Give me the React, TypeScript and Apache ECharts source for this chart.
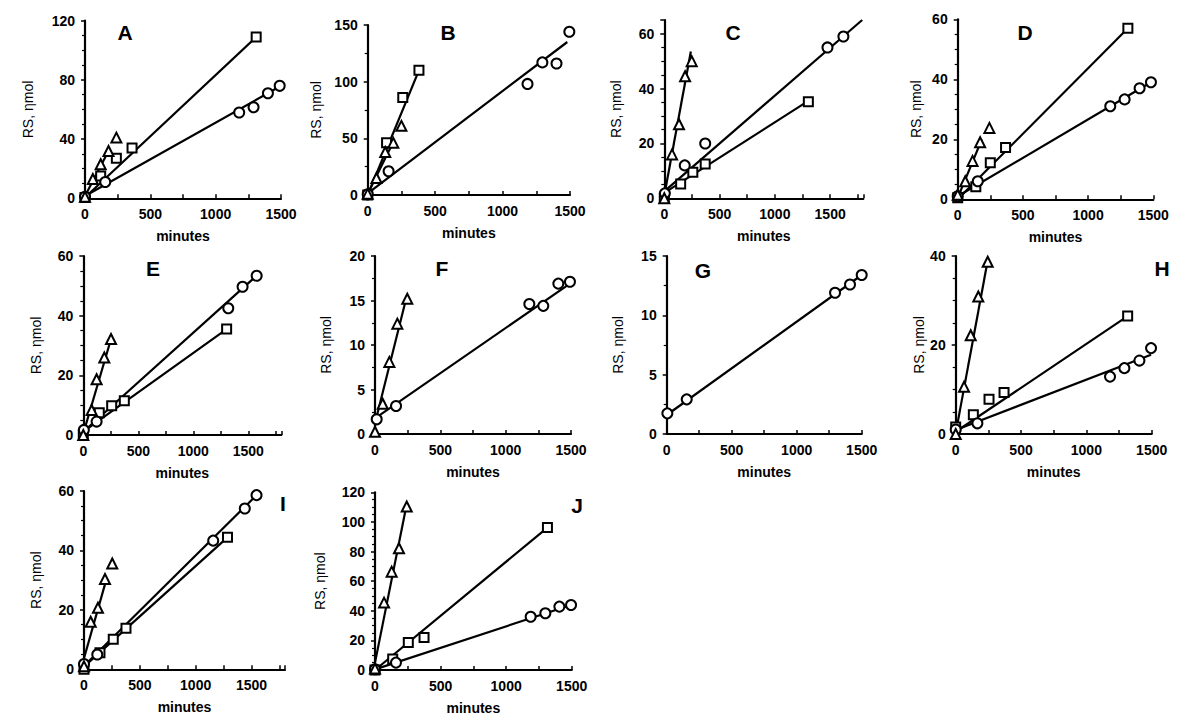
import React, { useEffect, useRef } from "react";
import * as echarts from "echarts";

// ---- Data (minutes, RS nmol) ----
// Panel A
const A_tri = [[0, 1], [60, 13], [120, 23], [180, 32], [240, 41]];
const A_triFit = [[0, 1.5], [180, 32]];
const A_sq = [[0, 0.5], [120, 15], [240, 27], [360, 34], [1310, 109]];
const A_sqFit = [[0, 0.5], [1310, 109]];
const A_circ = [[0, 1], [155, 11], [1180, 58], [1290, 61.5], [1400, 71], [1490, 76]];
const A_circFit = [[0, 1.5], [1490, 75.5]];
// Panel B
const B_tri = [[0, 1], [65, 15], [130, 38], [190, 46], [250, 61]];
const B_triFit = [[0, 1], [195, 48]];
const B_sq = [[0, 0], [140, 46], [260, 86], [380, 110]];
const B_sqFit = [[0, 0], [380, 110]];
const B_circ = [[0, 0.6], [155, 21], [1185, 98], [1295, 117], [1400, 116], [1495, 144]];
const B_circFit = [[0, 1.5], [1480, 135]];
// Panel C
const C_tri = [[0, 0], [70, 16], [133, 27], [188, 44.5], [248, 50]];
const C_triFit = [[0, 1], [240, 53.5]];
const C_sq = [[0, 0], [148, 5.2], [258, 9.5], [370, 12.5], [1303, 35.2]];
const C_sqFit = [[0, 2], [1303, 35.5]];
const C_circ = [[5, 1.8], [185, 12], [370, 20], [1476, 55], [1620, 59]];
const C_circFit = [[0, 2.5], [1790, 65]];
// Panel D
const D_tri = [[0, 1.5], [58, 6], [114, 12.8], [172, 19], [243, 23.8]];
const D_triFit = [[0, 0.5], [185, 20]];
const D_sq = [[0, 0.5], [139, 4.2], [250, 12.2], [367, 17.3], [1305, 57]];
const D_sqFit = [[0, 0], [1305, 57]];
const D_circ = [[0, 1], [154, 6], [1170, 31], [1280, 33.3], [1395, 37], [1482, 39]];
const D_circFit = [[0, 1], [1482, 39]];
// Panel E
const E_tri = [[0, 0], [76, 8.4], [121, 18.7], [191, 26], [252, 32.2]];
const E_triFit = [[0, 0.5], [252, 32.2]];
const E_sq = [[0, 0], [145, 7.5], [258, 9.8], [373, 11.5], [1303, 35.5]];
const E_sqFit = [[0, 1.1], [1303, 35.5]];
const E_circ = [[5, 1.7], [121, 4.5], [1318, 42.5], [1448, 49.7], [1576, 53.4]];
const E_circFit = [[0, 1.1], [1576, 53.4]];
// Panel F
const F_tri = [[0, 0.26], [59, 3.4], [110, 8.1], [171, 12.4], [247, 15.2]];
const F_triFit = [[0, 1.2], [245, 15.6]];
const F_circ = [[13, 1.65], [161, 3.15], [1181, 14.6], [1288, 14.4], [1403, 16.9], [1492, 17.1]];
const F_circFit = [[0, 1.76], [1492, 16.9]];
// Panel G
const G_circ = [[5, 1.74], [154, 2.92], [1295, 11.9], [1410, 12.6], [1500, 13.4]];
const G_circFit = [[0, 1.6], [1500, 13.4]];
// Panel H
const H_tri = [[0, 0], [64, 10.6], [115, 22.2], [173, 30.9], [245, 38.7]];
const H_triFit = [[0, 0.2], [245, 39]];
const H_sq = [[0, 1.6], [135, 4.3], [255, 7.8], [370, 9.3], [1316, 26.5]];
const H_sqFit = [[0, 0.5], [1316, 26.5]];
const H_circ = [[0, 1], [166, 2.4], [1181, 12.9], [1291, 14.8], [1406, 16.5], [1495, 19.3]];
const H_circFit = [[0, 0.9], [1495, 17.8]];
// Panel I
const I_tri = [[0, 1], [60, 16], [125, 20.7], [188, 30.4], [253, 35.6]];
const I_triFit = [[0, 3.7], [203, 30.6]];
const I_sq = [[0, 0], [143, 5.6], [262, 10.1], [376, 13.8], [1285, 44.4]];
const I_sqFit = [[0, 0.9], [1285, 44.4]];
const I_circ = [[0, 1.8], [119, 5], [1157, 43.3], [1440, 54.1], [1545, 58.6]];
const I_circFit = [[0, 1.1], [1545, 58.6]];
// Panel J
const J_tri = [[0, 1], [69, 45.5], [127, 66.4], [183, 82.2], [242, 110.4]];
const J_triFit = [[0, 5], [242, 112]];
const J_sq = [[0, 0], [135, 7.4], [254, 18.5], [374, 22], [1315, 96.2]];
const J_sqFit = [[0, 0], [1315, 96.2]];
const J_circ = [[0, 0.5], [160, 5], [1187, 36], [1299, 38.3], [1406, 42.8], [1495, 43.9]];
const J_circFit = [[0, 0.4], [1495, 43.9]];

const panelLetters = ["A", "B", "C", "D", "E", "F", "G", "H", "I", "J"];
const yTitle = "RS, ηmol";
const xTitle = "minutes";

type Panel = {
  letter: string;
  grid: { left: number; top: number; width: number; height: number };
  xMax: number;
  yMax: number;
  yInt: number;
  yMinor: number;
  nameGap: number;
  lx: number;
  ly: number;
  tri?: number[][];
  triFit?: number[][];
  sq?: number[][];
  sqFit?: number[][];
  circ?: number[][];
  circFit?: number[][];
};

const panels: Panel[] = [
  { letter: panelLetters[0], grid: { left: 85, top: 20.7, width: 196, height: 177.6 }, xMax: 1500, yMax: 120, yInt: 40, yMinor: 4, nameGap: 50, lx: 125, ly: 32, tri: A_tri, triFit: A_triFit, sq: A_sq, sqFit: A_sqFit, circ: A_circ, circFit: A_circFit },
  { letter: panelLetters[1], grid: { left: 367.7, top: 25, width: 202.3, height: 170 }, xMax: 1500, yMax: 150, yInt: 50, yMinor: 2, nameGap: 45, lx: 448, ly: 32, tri: B_tri, triFit: B_triFit, sq: B_sq, sqFit: B_sqFit, circ: B_circ, circFit: B_circFit },
  { letter: panelLetters[2], grid: { left: 664.3, top: 20, width: 199, height: 178.3 }, xMax: 1800, yMax: 65, yInt: 20, yMinor: 4, nameGap: 41, lx: 733, ly: 32, tri: C_tri, triFit: C_triFit, sq: C_sq, sqFit: C_sqFit, circ: C_circ, circFit: C_circFit },
  { letter: panelLetters[3], grid: { left: 957.7, top: 19.3, width: 195.6, height: 180 }, xMax: 1500, yMax: 60, yInt: 20, yMinor: 4, nameGap: 35, lx: 1025, ly: 32, tri: D_tri, triFit: D_triFit, sq: D_sq, sqFit: D_sqFit, circ: D_circ, circFit: D_circFit },
  { letter: panelLetters[4], grid: { left: 83.3, top: 256, width: 198, height: 179 }, xMax: 1800, yMax: 60, yInt: 20, yMinor: 4, nameGap: 40, lx: 153, ly: 268, tri: E_tri, triFit: E_triFit, sq: E_sq, sqFit: E_sqFit, circ: E_circ, circFit: E_circFit },
  { letter: panelLetters[5], grid: { left: 375, top: 256, width: 196, height: 178 }, xMax: 1500, yMax: 20, yInt: 5, yMinor: 2, nameGap: 42, lx: 442, ly: 268, tri: F_tri, triFit: F_triFit, circ: F_circ, circFit: F_circFit },
  { letter: panelLetters[6], grid: { left: 666.7, top: 256, width: 195, height: 178 }, xMax: 1500, yMax: 15, yInt: 5, yMinor: 2, nameGap: 42, lx: 703, ly: 270, circ: G_circ, circFit: G_circFit },
  { letter: panelLetters[7], grid: { left: 955.7, top: 256, width: 196, height: 178 }, xMax: 1500, yMax: 40, yInt: 20, yMinor: 4, nameGap: 29, lx: 1162, ly: 268, tri: H_tri, triFit: H_triFit, sq: H_sq, sqFit: H_sqFit, circ: H_circ, circFit: H_circFit },
  { letter: panelLetters[8], grid: { left: 84, top: 491, width: 201, height: 178.3 }, xMax: 1800, yMax: 60, yInt: 20, yMinor: 4, nameGap: 41, lx: 283, ly: 503, tri: I_tri, triFit: I_triFit, sq: I_sq, sqFit: I_sqFit, circ: I_circ, circFit: I_circFit },
  { letter: panelLetters[9], grid: { left: 375, top: 492.3, width: 196.7, height: 177.7 }, xMax: 1500, yMax: 120, yInt: 20, yMinor: 4, nameGap: 48, lx: 577, ly: 505, tri: J_tri, triFit: J_triFit, sq: J_sq, sqFit: J_sqFit, circ: J_circ, circFit: J_circFit },
];

const FONT = "Arial, 'Liberation Sans', sans-serif";

function buildOption() {
  const grid: any[] = [];
  const xAxis: any[] = [];
  const yAxis: any[] = [];
  const series: any[] = [];
  const graphic: any[] = [];

  panels.forEach((p, i) => {
    grid.push({ ...p.grid, containLabel: false });
    xAxis.push({
      type: "value",
      gridIndex: i,
      min: 0,
      max: p.xMax,
      interval: 250,
      name: xTitle,
      nameLocation: "middle",
      nameGap: 31,
      nameTextStyle: { fontFamily: FONT, fontSize: 14, fontWeight: "bold", color: "#000" },
      axisLine: { show: true, onZero: false, lineStyle: { color: "#000", width: 2.2 } },
      axisTick: { show: true, inside: true, length: 4, lineStyle: { color: "#000", width: 1.5 } },
      axisLabel: {
        margin: 9,
        fontFamily: FONT,
        fontSize: 14,
        fontWeight: "bold",
        color: "#000",
        formatter: (v: number) => (v % 500 === 0 ? String(v) : ""),
      },
      splitLine: { show: false },
    });
    yAxis.push({
      type: "value",
      gridIndex: i,
      min: 0,
      max: p.yMax,
      interval: p.yInt,
      name: yTitle,
      nameLocation: "middle",
      nameGap: p.nameGap,
      nameTextStyle: { fontFamily: FONT, fontSize: 14, color: "#000" },
      axisLine: { show: true, onZero: false, lineStyle: { color: "#000", width: 2.2 } },
      axisTick: { show: true, inside: false, length: 4, lineStyle: { color: "#000", width: 1.5 } },
      minorTick: { show: true, splitNumber: p.yMinor, length: 3, lineStyle: { color: "#000", width: 1.2 } },
      axisLabel: {
        margin: 10,
        fontFamily: FONT,
        fontSize: 14,
        fontWeight: "bold",
        color: "#000",
        formatter: (v: number) => (v % p.yInt === 0 ? String(v) : ""),
      },
      splitLine: { show: false },
    });

    const fits = [p.triFit, p.sqFit, p.circFit];
    fits.forEach((f) => {
      if (!f) return;
      series.push({
        type: "line",
        xAxisIndex: i,
        yAxisIndex: i,
        data: f,
        symbol: "none",
        lineStyle: { color: "#000", width: 2.2 },
        z: 2,
        silent: true,
      });
    });
    const marks: [number[][] | undefined, string, number][] = [
      [p.sq, "rect", 9],
      [p.circ, "circle", 10],
      [p.tri, "triangle", 10],
    ];
    marks.forEach(([d, sym, size]) => {
      if (!d) return;
      series.push({
        type: "scatter",
        xAxisIndex: i,
        yAxisIndex: i,
        data: d,
        symbol: sym,
        symbolSize: size,
        itemStyle: { color: "#fff", borderColor: "#000", borderWidth: 2, opacity: 1 },
        z: 3,
      });
    });

    graphic.push({
      type: "text",
      x: p.lx,
      y: p.ly,
      style: {
        text: p.letter,
        fontFamily: FONT,
        fontSize: 21,
        fontWeight: "bold",
        fill: "#000",
        textAlign: "center",
        textVerticalAlign: "middle",
      },
    });
  });

  return {
    animation: false,
    backgroundColor: "#fff",
    grid,
    xAxis,
    yAxis,
    series,
    graphic,
  };
}

export default function App() {
  const ref = useRef<HTMLDivElement>(null);
  useEffect(() => {
    if (!ref.current) return;
    const chart = echarts.init(ref.current, undefined, { renderer: "svg" });
    chart.setOption(buildOption() as any);
    return () => chart.dispose();
  }, []);
  return (
    <div
      ref={ref}
      style={{ position: "fixed", left: 0, top: 0, width: 1200, height: 728, background: "#fff" }}
    />
  );
}
